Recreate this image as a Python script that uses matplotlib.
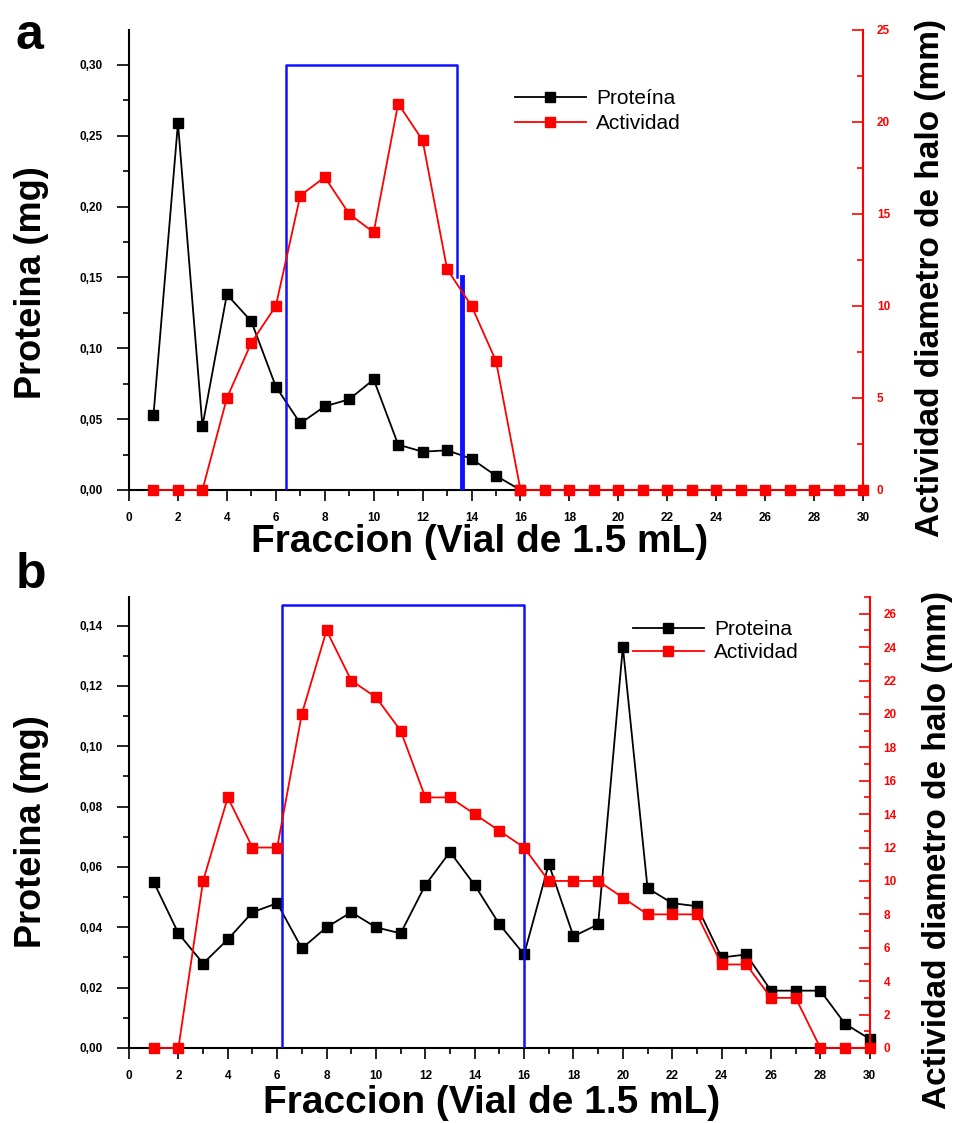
import matplotlib
matplotlib.use("Agg")
import matplotlib.pyplot as plt
from matplotlib.ticker import MultipleLocator
import numpy as np

# ---------------- data ----------------
frac_a_prot = list(range(1, 17))
prot_a = [0.053, 0.259, 0.045, 0.138, 0.119, 0.073, 0.047, 0.059, 0.064, 0.078,
          0.032, 0.027, 0.028, 0.022, 0.010, 0.000]
frac_a_act = list(range(1, 31))
act_a = [0, 0, 0, 5, 8, 10, 16, 17, 15, 14, 21, 19, 12, 10, 7,
         0, 0, 0, 0, 0, 0, 0, 0, 0, 0, 0, 0, 0, 0, 0]

frac_b = list(range(1, 31))
prot_b = [0.055, 0.038, 0.028, 0.036, 0.045, 0.048, 0.033, 0.040, 0.045, 0.040,
          0.038, 0.054, 0.065, 0.054, 0.041, 0.031, 0.061, 0.037, 0.041, 0.133,
          0.053, 0.048, 0.047, 0.030, 0.031, 0.019, 0.019, 0.019, 0.008, 0.003]
act_b = [0, 0, 10, 15, 12, 12, 20, 25, 22, 21, 19, 15, 15, 14, 13, 12,
         10, 10, 10, 9, 8, 8, 8, 5, 5, 3, 3, 0, 0, 0]

# selection boxes (fraction range, protein-axis height)
box_a = [6.4, 13.4, 0.30]
box_a_thick = [13.6, 0.150]
box_b = [6.2, 16.0, 0.1467]

xticks = list(range(0, 31, 2))
yticks_a = [0.00, 0.05, 0.10, 0.15, 0.20, 0.25, 0.30]
ylabels_a = ["0,00", "0,05", "0,10", "0,15", "0,20", "0,25", "0,30"]
rticks_a = [0, 5, 10, 15, 20, 25]
yticks_b = [0.00, 0.02, 0.04, 0.06, 0.08, 0.10, 0.12, 0.14]
ylabels_b = ["0,00", "0,02", "0,04", "0,06", "0,08", "0,10", "0,12", "0,14"]
rticks_b = list(range(0, 27, 2))

label_x = "Fraccion (Vial de 1.5 mL)"
label_yl = "Proteina (mg)"
label_yr = "Actividad diametro de halo (mm)"

# ---------------- figure ----------------
plt.rcParams['font.family'] = ['Liberation Sans', 'DejaVu Sans']
fig = plt.figure(figsize=(9.6, 11.23), dpi=100)

RED = '#ff0000'
BLUE = '#1010ff'
tick_font = dict(fontsize=8.5, fontweight='bold')


def style(ax, axr, yt, yl, ymax, rt, rmax, rminor, yminor, xl_x, yl_y, yr_y, xpad):
    ax.set_xlim(0, 30)
    ax.set_ylim(0, ymax)
    axr.set_ylim(0, rmax)
    ax.spines['top'].set_visible(False)
    axr.spines['top'].set_visible(False)
    axr.spines['left'].set_visible(False)
    axr.spines['bottom'].set_visible(False)
    axr.spines['right'].set_color(RED)
    axr.spines['right'].set_linewidth(1.5)
    ax.spines['right'].set_visible(False)
    for s in ['left', 'bottom']:
        ax.spines[s].set_linewidth(1.5)
    ax.set_xticks(xticks)
    ax.set_xticklabels([str(t) for t in xticks], **tick_font)
    ax.xaxis.set_minor_locator(MultipleLocator(1))
    ax.set_yticks(yt)
    ax.set_yticklabels(yl, **tick_font)
    ax.yaxis.set_minor_locator(MultipleLocator(yminor))
    ax.tick_params(axis='y', which='major', direction='out', length=9, width=1.2, pad=10)
    ax.tick_params(axis='x', which='major', direction='out', length=8, width=1.2, pad=8)
    ax.tick_params(axis='both', which='minor', direction='out', length=4, width=1.2)
    axr.set_yticks(rt)
    axr.set_yticklabels([str(t) for t in rt], color=RED, **tick_font)
    axr.yaxis.set_minor_locator(MultipleLocator(rminor))
    axr.tick_params(axis='y', which='major', direction='in', length=8, width=1.2,
                    color=RED, pad=10)
    axr.tick_params(axis='y', which='minor', direction='in', length=4, width=1.2, color=RED)
    ax.set_xlabel(label_x, fontsize=28, fontweight='bold', labelpad=xpad)
    ax.set_ylabel(label_yl, fontsize=26, fontweight='bold', labelpad=22)
    axr.set_ylabel(label_yr, fontsize=24, fontweight='bold', labelpad=18)
    ax.xaxis.label.set_x(xl_x)
    ax.yaxis.label.set_y(yl_y)
    axr.yaxis.label.set_y(yr_y)


# ---- panel a ----
ax = fig.add_axes([0.1344, 0.5637, 0.899 - 0.1344, 0.9733 - 0.5637])
axr = ax.twinx()
style(ax, axr, yticks_a, ylabels_a, 0.3247, rticks_a, 25, 2.5, 0.025, 0.478, 0.45, 0.46, 0)
la, = ax.plot(frac_a_prot, prot_a, '-s', color='black', lw=1.3, ms=7.5, clip_on=False)
ra, = axr.plot(frac_a_act, act_a, '-s', color=RED, lw=1.3, ms=7.5, clip_on=False)
ax.plot([box_a[0], box_a[0], box_a[1], box_a[1]], [0, box_a[2], box_a[2], box_a_thick[1]],
        color=BLUE, lw=1.8, zorder=5)
ax.plot([box_a_thick[0], box_a_thick[0]], [0, box_a_thick[1]], color=BLUE, lw=3.5, zorder=5)
axr.legend([la, ra], ['Proteína', 'Actividad'], loc='upper left',
           bbox_to_anchor=(0.5, 0.912), frameon=False, fontsize=15,
           handlelength=3.4, labelspacing=0.3, handletextpad=0.5)
fig.text(0.016, 0.968, 'a', fontsize=36, fontweight='bold', va='center')

# ---- panel b ----
bx = fig.add_axes([0.1344, 0.0668, 0.906 - 0.1344, 0.4684 - 0.0668])
bxr = bx.twinx()
style(bx, bxr, yticks_b, ylabels_b, 0.1495, rticks_b, 27, 1, 0.01, 0.49, 0.48, 0.44, 2)
lb, = bx.plot(frac_b, prot_b, '-s', color='black', lw=1.3, ms=7.5, clip_on=False)
rb, = bxr.plot(frac_b, act_b, '-s', color=RED, lw=1.3, ms=7.5, clip_on=False)
bx.plot([box_b[0], box_b[0], box_b[1], box_b[1]], [0, box_b[2], box_b[2], 0],
        color=BLUE, lw=1.8, zorder=5)
bxr.legend([lb, rb], ['Proteina', 'Actividad'], loc='upper left',
           bbox_to_anchor=(0.655, 0.99), frameon=False, fontsize=15,
           handlelength=3.4, labelspacing=0.2, handletextpad=0.5)
fig.text(0.016, 0.488, 'b', fontsize=36, fontweight='bold', va='center')

fig.savefig('out.png', dpi=100)
